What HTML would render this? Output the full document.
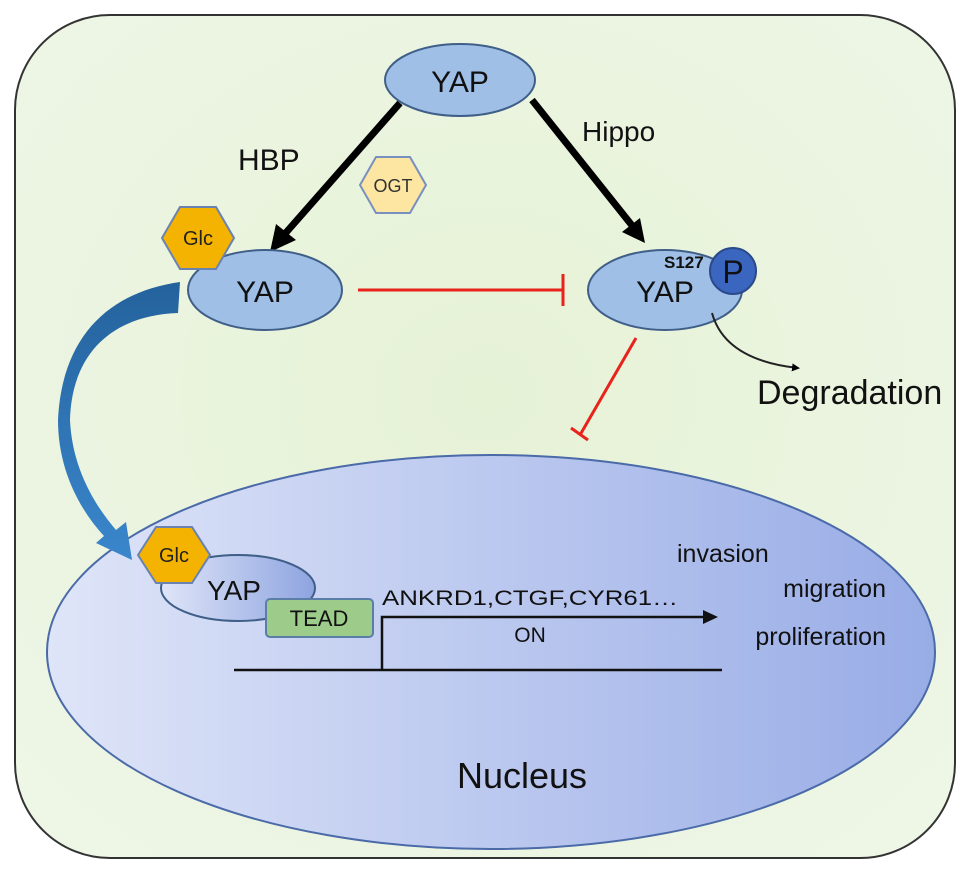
<!DOCTYPE html>
<html><head><meta charset="utf-8"><style>
html,body{margin:0;padding:0;background:#fff;}
svg{display:block;}
text{font-family:"Liberation Sans",Arial,sans-serif;}
</style></head><body>
<svg width="969" height="871" viewBox="0 0 969 871" xmlns="http://www.w3.org/2000/svg">
<defs>
<radialGradient id="cell" cx="0.5" cy="0.45" r="0.7">
<stop offset="0" stop-color="#e6f2d6"/><stop offset="1" stop-color="#eef6e6"/></radialGradient>
<linearGradient id="nuc" x1="0" y1="0" x2="1" y2="0">
<stop offset="0" stop-color="#dfe5f8"/><stop offset="1" stop-color="#98ace6"/></linearGradient>
<linearGradient id="yapin" x1="0" y1="0" x2="1" y2="0">
<stop offset="0" stop-color="#dfe5f8"/><stop offset="1" stop-color="#8ea4e0"/></linearGradient>
<linearGradient id="blu" x1="0" y1="0" x2="0" y2="1">
<stop offset="0" stop-color="#24629c"/><stop offset="1" stop-color="#3a86cc"/></linearGradient>
<marker id="ah" markerWidth="8" markerHeight="8" refX="6" refY="4" orient="auto" markerUnits="userSpaceOnUse">
<path d="M0,0 L8,4 L0,8 Z" fill="#000"/></marker>
</defs>
<rect x="15" y="15" width="940" height="843" rx="95" ry="95" fill="url(#cell)" stroke="#333" stroke-width="2"/>

<ellipse cx="460" cy="80" rx="75" ry="36" fill="#9fbfe6" stroke="#3f5f88" stroke-width="2"/>
<text x="460" y="92" font-size="30" text-anchor="middle" fill="#111">YAP</text>

<line x1="400" y1="103" x2="283" y2="236" stroke="#000" stroke-width="7"/>
<polygon points="270,252 276,224 296,240" fill="#000"/>
<line x1="532" y1="100" x2="634" y2="228" stroke="#000" stroke-width="7"/>
<polygon points="645,243 622,232 640,218" fill="#000"/>
<text x="238" y="170" font-size="30" fill="#111">HBP</text>
<text x="582" y="141" font-size="28" fill="#111">Hippo</text>

<polygon points="360,185 376,157 410,157 426,185 410,213 376,213" fill="#fde5a2" stroke="#7890c0" stroke-width="2"/>
<text x="393" y="192" font-size="18" text-anchor="middle" fill="#333">OGT</text>

<ellipse cx="265" cy="290" rx="77" ry="40" fill="#9fbfe6" stroke="#3f5f88" stroke-width="2"/>
<text x="265" y="302" font-size="30" text-anchor="middle" fill="#111">YAP</text>
<polygon points="162,238 180,207 216,207 234,238 216,269 180,269" fill="#f4b300" stroke="#6a82b0" stroke-width="2"/>
<text x="198" y="245" font-size="20" text-anchor="middle" fill="#222">Glc</text>

<line x1="358" y1="290" x2="562" y2="290" stroke="#e8231c" stroke-width="3"/>
<line x1="563" y1="274" x2="563" y2="306" stroke="#e8231c" stroke-width="3"/>

<ellipse cx="665" cy="290" rx="77" ry="40" fill="#9fbfe6" stroke="#3f5f88" stroke-width="2"/>
<text x="665" y="302" font-size="30" text-anchor="middle" fill="#111">YAP</text>
<circle cx="733" cy="271" r="23" fill="#3a66c0" stroke="#2a4a8a" stroke-width="2"/>
<text x="733" y="283" font-size="32" text-anchor="middle" fill="#111">P</text>
<text x="664" y="268" font-size="17" font-weight="bold" fill="#111">S127</text>

<path d="M712,313 Q725,360 798,368" fill="none" stroke="#222" stroke-width="2" marker-end="url(#ah)"/>
<text x="757" y="404" font-size="34" fill="#111">Degradation</text>

<line x1="636" y1="338" x2="580" y2="435" stroke="#e8231c" stroke-width="3"/>
<line x1="571" y1="428" x2="588" y2="440" stroke="#e8231c" stroke-width="3"/>

<ellipse cx="491" cy="652" rx="444" ry="197" fill="url(#nuc)" stroke="#4a6aa8" stroke-width="2"/>

<path d="M180,282 C110,292 62,335 58,420 C58,470 80,510 104,536 L96,543 L132,560 L126,522 L116,530 C92,502 72,465 70,420 C72,348 118,315 178,313 Z" fill="url(#blu)"/>

<ellipse cx="238" cy="588" rx="77" ry="33" fill="url(#yapin)" stroke="#3f5f88" stroke-width="2"/>
<text x="234" y="600" font-size="28" text-anchor="middle" fill="#111">YAP</text>
<polygon points="138,555 156,527 192,527 210,555 192,583 156,583" fill="#f4b300" stroke="#6a82b0" stroke-width="2"/>
<text x="174" y="562" font-size="20" text-anchor="middle" fill="#222">Glc</text>
<rect x="266" y="599" width="107" height="38" rx="4" fill="#9ccb8a" stroke="#5a7ea8" stroke-width="2"/>
<text x="319" y="626" font-size="22" text-anchor="middle" fill="#111">TEAD</text>

<line x1="234" y1="670" x2="722" y2="670" stroke="#111" stroke-width="2.5"/>
<polyline points="382,670 382,617 705,617" fill="none" stroke="#111" stroke-width="2.5"/>
<polygon points="718,617 703,610 703,624" fill="#111"/>
<text x="382" y="605" font-size="21" fill="#111" textLength="296" lengthAdjust="spacingAndGlyphs">ANKRD1,CTGF,CYR61…</text>
<text x="530" y="642" font-size="21" text-anchor="middle" fill="#111">ON</text>
<text x="677" y="562" font-size="25" fill="#111">invasion</text>
<text x="886" y="597" font-size="25" text-anchor="end" fill="#111">migration</text>
<text x="886" y="645" font-size="25" text-anchor="end" fill="#111">proliferation</text>
<text x="522" y="788" font-size="36" text-anchor="middle" fill="#111">Nucleus</text>
</svg>
</body></html>
